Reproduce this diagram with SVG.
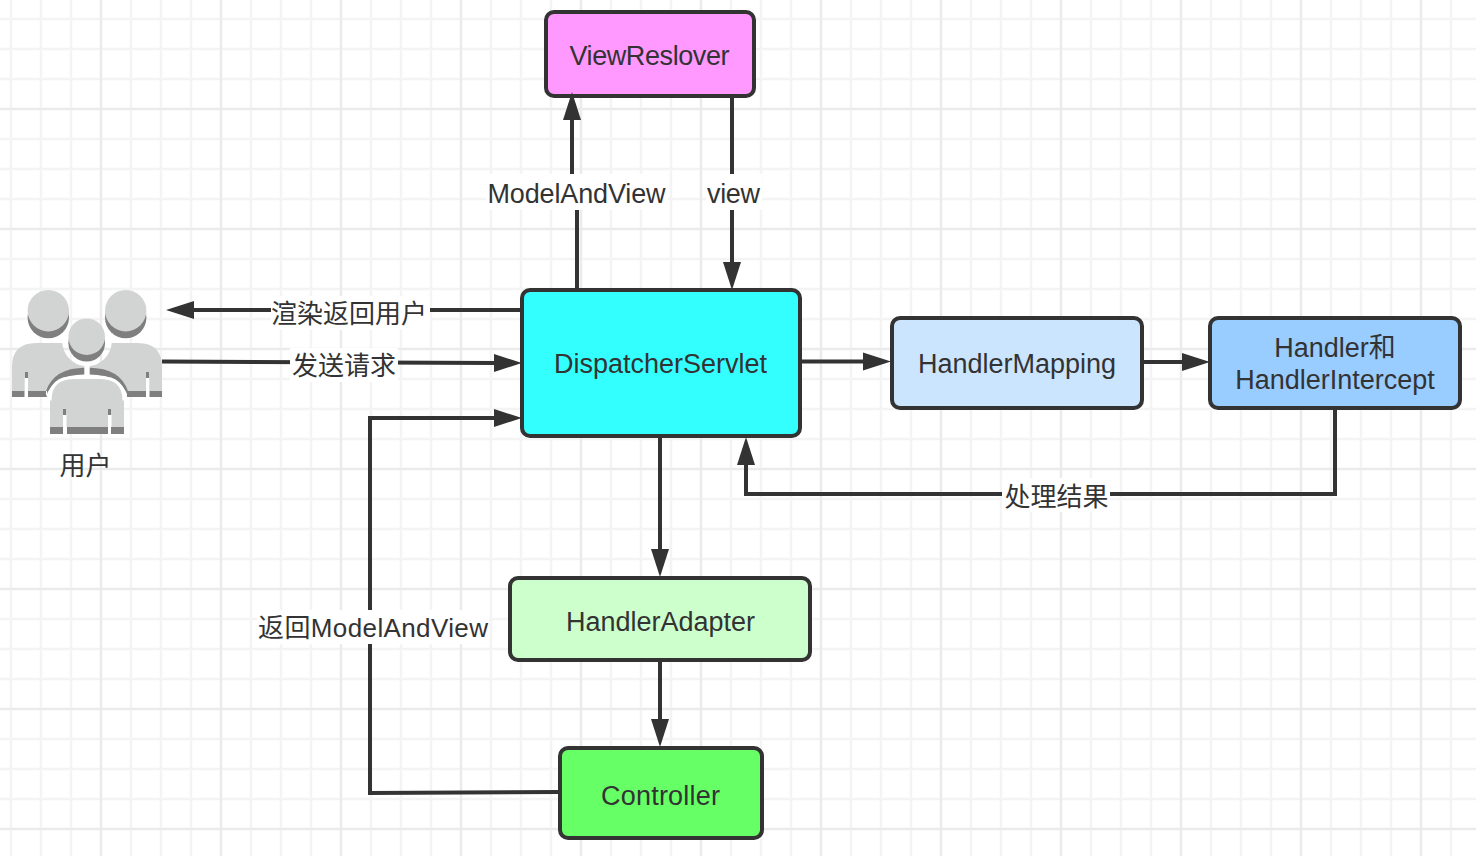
<svg xmlns="http://www.w3.org/2000/svg" width="1476" height="856" viewBox="0 0 1476 856">
<style>
text{font-family:"Liberation Sans","Noto Sans CJK SC",sans-serif;font-size:27px;fill:#333;text-anchor:middle}
text.z{font-size:26px}
.n{stroke:#333;stroke-width:4}
.c{fill:none;stroke:#333;stroke-width:4}
.a{fill:#333;stroke:none}
.l{fill:#fff}
.ic{fill:#d2d4d3}
.sh{fill:#7f7f7f}
</style>
<rect width="1476" height="856" fill="#fff"/>
<g id="grid" fill="none">
<path stroke="#f4f4f4" stroke-width="2.500" d="M11 0V856M41 0V856M71 0V856M131 0V856M161 0V856M191 0V856M251 0V856M281 0V856M311 0V856M371 0V856M401 0V856M431 0V856M491 0V856M521 0V856M551 0V856M611 0V856M641 0V856M671 0V856M731 0V856M761 0V856M791 0V856M851 0V856M881 0V856M911 0V856M971 0V856M1001 0V856M1031 0V856M1091 0V856M1121 0V856M1151 0V856M1211 0V856M1241 0V856M1271 0V856M1331 0V856M1361 0V856M1391 0V856M1451 0V856M0 19H1476M0 49H1476M0 79H1476M0 139H1476M0 169H1476M0 199H1476M0 259H1476M0 289H1476M0 319H1476M0 379H1476M0 409H1476M0 439H1476M0 499H1476M0 529H1476M0 559H1476M0 619H1476M0 649H1476M0 679H1476M0 739H1476M0 769H1476M0 799H1476"/>
<path stroke="#ebebeb" stroke-width="2.500" d="M101 0V856M221 0V856M341 0V856M461 0V856M581 0V856M701 0V856M821 0V856M941 0V856M1061 0V856M1181 0V856M1301 0V856M1421 0V856M0 109H1476M0 229H1476M0 349H1476M0 469H1476M0 589H1476M0 709H1476M0 829H1476"/>
</g>
<g id="user">
<circle class="sh" cx="48.300" cy="317.600" r="20.700"/><circle class="ic" cx="48.300" cy="310.700" r="20.700"/>
<circle class="sh" cx="125.700" cy="317.600" r="20.700"/><circle class="ic" cx="125.700" cy="310.700" r="20.700"/>
<path class="ic" d="M12 391V367Q12 343 36 343H62.300A25 25 0 0 0 84.300 366V368Q56 368 46 391Z"/>
<path class="ic" d="M162 391V367Q162 343 138 343H111.700A25 25 0 0 1 89.700 366V368Q118 368 128 391Z"/>
<path class="sh" d="M84.300 367.700Q54 368 46 391V397Q52 375 84.300 374.500ZM12 391H24.700V397H12ZM28 391H47V397H28ZM25 372H28V378H25Z"/>
<path class="sh" d="M89.700 367.700Q120 368 128 391V397Q122 375 89.700 374.500ZM149.300 391H162V397H149.300ZM127 391H146V397H127ZM146 372H149V378H146Z"/>
<rect x="24.700" y="378" width="3.300" height="19" fill="#fff"/><rect x="146" y="378" width="3.300" height="19" fill="#fff"/>
<circle class="sh" cx="86.700" cy="343.300" r="18.300"/><circle class="ic" cx="86.700" cy="336.700" r="18.300"/>
<path class="ic" d="M50 427V402Q50 379 74 379H100Q124 379 124 402V427Z"/>
<path d="M50 402Q50 379 74 379H100Q124 379 124 402" fill="none" stroke="#fff" stroke-width="3" transform="translate(0 -1.500)"/>
<path class="sh" d="M50 427H63V434H50ZM67 427H108V434H67ZM111 427H124V434H111ZM63 409H66V415H63ZM108 409H111V415H108Z"/>
<rect x="63" y="415" width="3.500" height="12" fill="#fff"/><rect x="108" y="415" width="3.500" height="12" fill="#fff"/>
<text class="z" x="85.500" y="474.500">用户</text>
</g>
<g id="viewresolver"><rect class="n" x="546" y="12" width="208" height="84" rx="8" fill="#f9f"/><text x="649.500" y="64.500" textLength="160">ViewReslover</text></g>
<g id="dispatcher"><rect class="n" x="522" y="290" width="278" height="146" rx="8" fill="#3ff"/><text x="660.500" y="372.500">DispatcherServlet</text></g>
<g id="mapping"><rect class="n" x="892" y="318" width="250" height="90" rx="8" fill="#cce5ff"/><text x="1017" y="372.500">HandlerMapping</text></g>
<g id="intercept"><rect class="n" x="1210" y="318" width="250" height="90" rx="8" fill="#9cf"/><text x="1335" y="356.500">Handler和</text><text x="1335" y="388.500">HandlerIntercept</text></g>
<g id="adapter"><rect class="n" x="510" y="578" width="300" height="82" rx="8" fill="#cfc"/><text x="660.500" y="630.500">HandlerAdapter</text></g>
<g id="controller"><rect class="n" x="560" y="748" width="202" height="90" rx="8" fill="#6f6"/><text x="660.500" y="804.500" textLength="119">Controller</text></g>
<g id="connectors">
<path class="c" d="M572 175V118"/><path class="a" d="M572 92L563 120H581Z"/>
<path class="c" d="M577 290V209"/>
<path class="c" d="M732 96V264"/><path class="a" d="M732 290L723 262H741Z"/>
<path class="c" d="M522 310H190"/><path class="a" d="M166 310L194 301V319Z"/>
<path class="c" d="M162 361.500L496 363"/><path class="a" d="M522 363L494 354V372Z"/>
<path class="c" d="M559 792L370 793V418H496"/><path class="a" d="M522 418L494 409V427Z"/>
<path class="c" d="M800 361.500H864"/><path class="a" d="M891 361.500L863 352.500V370.500Z"/>
<path class="c" d="M1142 362H1184"/><path class="a" d="M1210 362L1182 353V371Z"/>
<path class="c" d="M1335 408V494H746V462"/><path class="a" d="M746 437L737 465H755Z"/>
<path class="c" d="M660 436V552"/><path class="a" d="M660 577L651 549H669Z"/>
<path class="c" d="M660 660V722"/><path class="a" d="M660 747L651 719H669Z"/>
<g id="labels">
<rect class="l" x="486" y="174" width="182" height="36"/><text x="576.500" y="202.500" textLength="178">ModelAndView</text>
<rect class="l" x="706" y="174" width="56" height="36"/><text x="733.500" y="202.500" textLength="53">view</text>
<rect class="l" x="271" y="296" width="159" height="34"/><text class="z" x="349" y="322.500">渲染返回用户</text>
<rect class="l" x="290" y="348" width="108" height="34"/><text class="z" x="344" y="374.500">发送请求</text>
<rect class="l" x="1002" y="478" width="108" height="34"/><text class="z" x="1056.500" y="506">处理结果</text>
<rect class="l" x="257" y="610" width="232" height="34"/><text class="z" x="373" y="636.500" textLength="230">返回ModelAndView</text>
</g>
</g>
</svg>
